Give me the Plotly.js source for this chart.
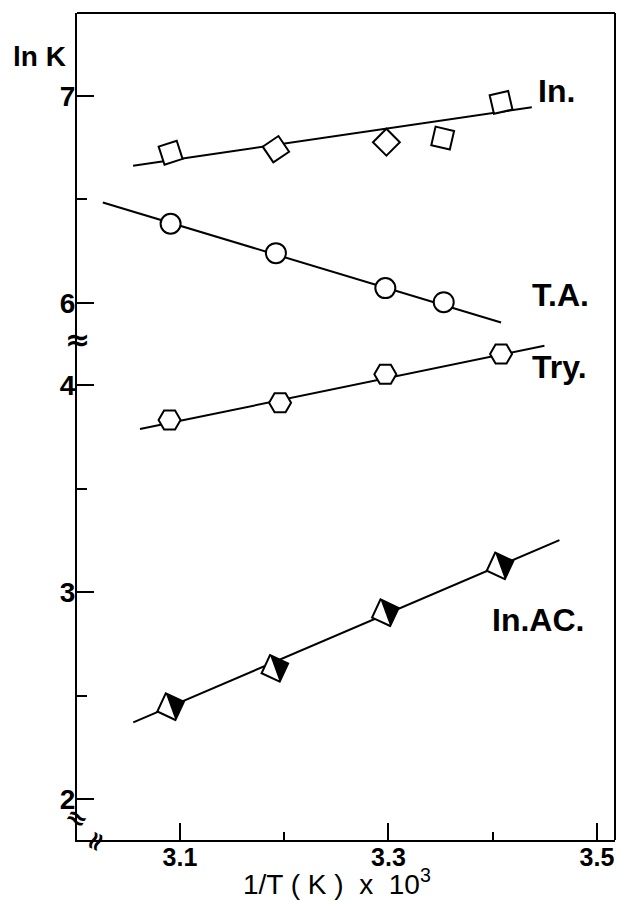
<!DOCTYPE html>
<html>
<head>
<meta charset="utf-8">
<script src="https://cdn.plot.ly/plotly-3.0.1.min.js"></script>
<style>
  html, body { margin: 0; padding: 0; background: #fff; }
  #chart { width: 618px; height: 901px; }
</style>
</head>
<body>
<div id="chart"></div>
<script>
// ln K against reciprocal temperature (1/T x 10^3) for four solutes.
const inX  = [3.091, 3.192, 3.298, 3.352, 3.408];
const inY  = [6.725, 6.742, 6.776, 6.796, 6.968];
const taX  = [3.091, 3.192, 3.297, 3.353];
const taY  = [6.382, 6.240, 6.071, 6.003];
const tryX = [3.090, 3.196, 3.297, 3.408];
const tryY = [3.831, 3.914, 4.052, 4.150];
const acX  = [3.091, 3.191, 3.297, 3.407];
const acY  = [2.446, 2.631, 2.900, 3.126];

// End points of the fitted straight lines
const inFitX  = [3.055, 3.4375];
const inFitY  = [6.662, 6.945];
const taFitX  = [3.026, 3.408];
const taFitY  = [6.4845, 5.905];
const tryFitX = [3.0616, 3.4496];
const tryFitY = [3.787, 4.190];
const acFitX  = [3.0552, 3.464];
const acFitY  = [2.3705, 3.251];

const seriesNames = ['In.', 'T.A.', 'Try.', 'In.AC.'];

// Axis ticks (the y axis is broken between 4 and 6)
const xTicks       = [3.1, 3.3, 3.5];
const xMinorTicks  = [3.2, 3.4];
const yUpperTicks  = [6, 7];
const yUpperMinor  = [6.5];
const yLowerTicks  = [2, 3, 4];
const yLowerMinor  = [2.5, 3.5];

// ---- geometry and styles ----
const W = 618, H = 901;
const M = { l: 77, r: 3, t: 13, b: 61 };
const split = 0.607;                 // paper fraction where the y axis breaks
const xRange = [3.0012, 3.5173];
const yLowRange = [1.802, 4.227];
const yUpRange = [5.83, 7.40];

const squareAngles = [-18, 56, 45, 13, -13];
const acAngle = 25;
const acSquareSize = 20;
const acTriSize = acSquareSize / 0.9;   // legs of triangle-ne are 0.9*size

const sans = 'Liberation Sans, Arial, sans-serif';
const black = '#000';

// The black half of each In.AC. marker is a triangle whose centroid is not the
// square's centre; an overlaid pair of axes nudges it by a few pixels.
const plotW = W - M.l - M.r;
const xPx = plotW / (xRange[1] - xRange[0]);
const lowH = (H - M.t - M.b) * split;
const yPx = lowH / (yLowRange[1] - yLowRange[0]);
const a = 0.3 * (acTriSize / 2);
const t = acAngle * Math.PI / 180;
const dxPx = a * (Math.cos(t) + Math.sin(t));
const dyPx = a * (Math.cos(t) - Math.sin(t));
const x3Range = [xRange[0] - dxPx / xPx, xRange[1] - dxPx / xPx];
const y3Range = [yLowRange[0] - dyPx / yPx, yLowRange[1] - dyPx / yPx];

function fitLine(x, y, xa, ya) {
  return { x: x, y: y, xaxis: xa, yaxis: ya, type: 'scatter', mode: 'lines',
           line: { color: black, width: 2 }, hoverinfo: 'skip', showlegend: false };
}

const traces = [
  fitLine(inFitX, inFitY, 'x', 'y2'),
  fitLine(taFitX, taFitY, 'x', 'y2'),
  fitLine(tryFitX, tryFitY, 'x', 'y'),
  fitLine(acFitX, acFitY, 'x', 'y'),
  { name: seriesNames[0], x: inX, y: inY, xaxis: 'x', yaxis: 'y2', type: 'scatter', mode: 'markers',
    marker: { symbol: 'square', size: 19, angle: squareAngles, color: '#fff', line: { color: black, width: 2 } } },
  { name: seriesNames[1], x: taX, y: taY, xaxis: 'x', yaxis: 'y2', type: 'scatter', mode: 'markers',
    marker: { symbol: 'circle', size: 20, color: '#fff', line: { color: black, width: 2 } } },
  { name: seriesNames[2], x: tryX, y: tryY, xaxis: 'x', yaxis: 'y', type: 'scatter', mode: 'markers',
    marker: { symbol: 'hexagon2', size: 22, color: '#fff', line: { color: black, width: 2 } } },
  { name: seriesNames[3], x: acX, y: acY, xaxis: 'x', yaxis: 'y', type: 'scatter', mode: 'markers',
    marker: { symbol: 'square', size: acSquareSize, angle: acAngle, color: '#fff', line: { color: black, width: 2 } } },
  { name: seriesNames[3], x: acX, y: acY, xaxis: 'x3', yaxis: 'y3', type: 'scatter', mode: 'markers',
    marker: { symbol: 'triangle-ne', size: acTriSize, angle: acAngle, color: black, line: { width: 0 } },
    hoverinfo: 'skip' }
];

const tickFontY = { family: sans, size: 28, color: black, weight: 'bold' };
const tickFontX = { family: sans, size: 25, color: black, weight: 'bold' };

const layout = {
  width: W, height: H,
  margin: M,
  paper_bgcolor: '#fff', plot_bgcolor: '#fff',
  showlegend: false,
  xaxis: {
    range: xRange, anchor: 'y', domain: [0, 1],
    showline: true, linecolor: black, linewidth: 2,
    showgrid: false, zeroline: false,
    tickmode: 'array', tickvals: xTicks, ticktext: xTicks.map(v => v.toFixed(1)),
    ticks: 'inside', ticklen: 17, tickwidth: 2, tickcolor: black,
    tickfont: tickFontX, ticklabelstandoff: -6,
    minor: { tickmode: 'array', tickvals: xMinorTicks, ticks: 'inside', ticklen: 8, tickwidth: 2, tickcolor: black, showgrid: false }
  },
  yaxis: {
    range: yLowRange, domain: [0, split], anchor: 'x',
    showline: true, linecolor: black, linewidth: 2,
    showgrid: false, zeroline: false,
    tickmode: 'array', tickvals: yLowerTicks, ticktext: yLowerTicks.map(String),
    ticks: 'inside', ticklen: 17, tickwidth: 2, tickcolor: black,
    tickfont: tickFontY, ticklabelstandoff: -6,
    minor: { tickmode: 'array', tickvals: yLowerMinor, ticks: 'inside', ticklen: 10, tickwidth: 2, tickcolor: black, showgrid: false }
  },
  yaxis2: {
    range: yUpRange, domain: [split, 1], anchor: 'x',
    showline: true, linecolor: black, linewidth: 2,
    showgrid: false, zeroline: false,
    tickmode: 'array', tickvals: yUpperTicks, ticktext: yUpperTicks.map(String),
    ticks: 'inside', ticklen: 17, tickwidth: 2, tickcolor: black,
    tickfont: tickFontY, ticklabelstandoff: -6,
    minor: { tickmode: 'array', tickvals: yUpperMinor, ticks: 'inside', ticklen: 10, tickwidth: 2, tickcolor: black, showgrid: false }
  },
  xaxis3: { range: x3Range, overlaying: 'x', anchor: 'y', visible: false },
  yaxis3: { range: y3Range, overlaying: 'y', anchor: 'x', visible: false },
  shapes: [
    { type: 'line', xref: 'paper', yref: 'paper', x0: 0, x1: 1, y0: 1, y1: 1, line: { color: black, width: 2 } },
    { type: 'line', xref: 'paper', yref: 'paper', x0: 1, x1: 1, y0: 0, y1: 1, line: { color: black, width: 2 } }
  ],
  annotations: [
    // series labels
    { text: seriesNames[0], x: 0.892, y: 0.9057 },
    { text: seriesNames[1], x: 0.8978, y: 0.6596 },
    { text: seriesNames[2], x: 0.896, y: 0.5717 },
    { text: seriesNames[3], x: 0.857, y: 0.266 }
  ].map(o => Object.assign(o, {
      xref: 'paper', yref: 'paper', xanchor: 'center', yanchor: 'middle', showarrow: false,
      font: { family: sans, size: 32, color: black, weight: 'bold' } })).concat([
    // axis titles
    { text: 'ln K', xref: 'paper', yref: 'paper', x: -0.0688, y: 0.9468, xanchor: 'center', yanchor: 'middle',
      showarrow: false, font: { family: sans, size: 28, color: black, weight: 'bold' } },
    { text: '1/T ( K )  x  10<sup>3</sup>', xref: 'paper', yref: 'paper', x: 0.4833, y: -0.0508,
      xanchor: 'center', yanchor: 'middle', showarrow: false,
      font: { family: sans, size: 28, color: black } },
    // axis break marks
    { text: '≈', xref: 'paper', yref: 'paper', x: 0, y: 0.6058, xanchor: 'center', yanchor: 'middle', showarrow: false,
      font: { family: 'DejaVu Sans, sans-serif', size: 30, color: black, weight: 'bold' } },
    { text: '≈', xref: 'paper', yref: 'paper', x: 0, y: 0.0266, xanchor: 'center', yanchor: 'middle', showarrow: false,
      textangle: 30, font: { family: 'DejaVu Sans, sans-serif', size: 26, color: black, weight: 'bold' } },
    { text: '≈', xref: 'paper', yref: 'paper', x: 0.0335, y: -0.0012, xanchor: 'center', yanchor: 'middle', showarrow: false,
      textangle: -65, font: { family: 'DejaVu Sans, sans-serif', size: 26, color: black, weight: 'bold' } }
  ])
};

Plotly.newPlot('chart', traces, layout, { displayModeBar: false, staticPlot: true });
</script>
</body>
</html>
